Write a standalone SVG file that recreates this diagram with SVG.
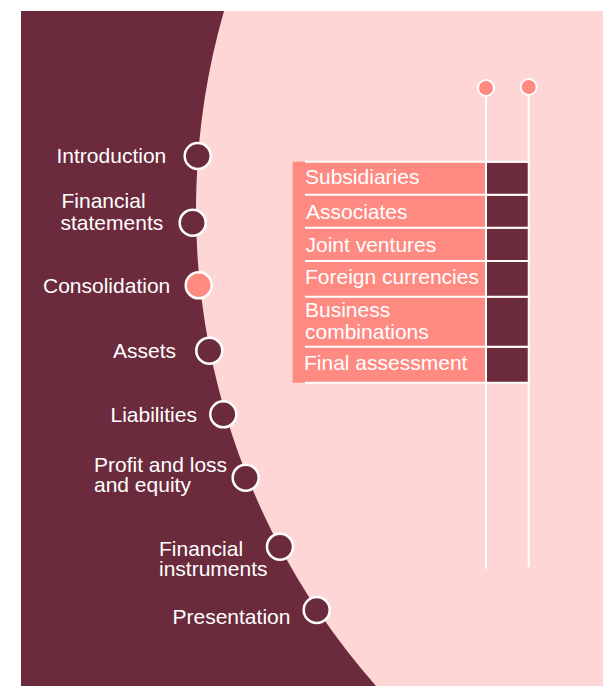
<svg xmlns="http://www.w3.org/2000/svg" width="603" height="686" viewBox="0 0 603 686">
<style>
.lbl{font-family:"Liberation Sans",Arial,sans-serif;font-size:21px;fill:#ffffff}
.node{fill:#6c2b3d;stroke:#ffffff;stroke-width:2.5}
.cell{fill:#6c2b3d}
.sep{stroke:#ffffff;stroke-width:2}
.vline{stroke:#ffffff;stroke-width:2;fill:none}
.dot{fill:#fe8a82;stroke:#ffffff;stroke-width:2}
</style>
<rect x="0" y="0" width="603" height="686" fill="#ffffff"/>
<rect x="21" y="11" width="582" height="675" fill="#fdd6d5"/>
<path d="M21 11 H224 A720 720 0 0 0 376 686 H21 Z" fill="#6c2b3d"/>

<g id="nodes-left">
<g id="n-introduction"><circle class="node" cx="197.7" cy="156" r="13"/><text class="lbl" x="56.5" y="162.7">Introduction</text></g>
<g id="n-financial-statements"><circle class="node" cx="192.7" cy="222.7" r="13"/><text class="lbl" x="61.5" y="208.3">Financial</text><text class="lbl" x="60.5" y="230">statements</text></g>
<g id="n-consolidation"><circle class="node" cx="198.7" cy="285.3" r="13" style="fill:#fe8a82"/><text class="lbl" x="43" y="293.3">Consolidation</text></g>
<g id="n-assets"><circle class="node" cx="209.3" cy="350.7" r="13"/><text class="lbl" x="113" y="358.3">Assets</text></g>
<g id="n-liabilities"><circle class="node" cx="223.3" cy="414.3" r="13"/><text class="lbl" x="110.5" y="421.7">Liabilities</text></g>
<g id="n-profit"><circle class="node" cx="245.7" cy="477.7" r="13"/><text class="lbl" x="94" y="471.7">Profit and loss</text><text class="lbl" x="94" y="492.3">and equity</text></g>
<g id="n-instruments"><circle class="node" cx="280" cy="546.7" r="13"/><text class="lbl" x="159" y="555.7">Financial</text><text class="lbl" x="159" y="576">instruments</text></g>
<g id="n-presentation"><circle class="node" cx="316.7" cy="610" r="13"/><text class="lbl" x="172.5" y="624">Presentation</text></g>
</g>

<g id="connectors">
<line class="vline" x1="486" y1="96" x2="486" y2="568.7"/>
<line class="vline" x1="528.7" y1="95" x2="528.7" y2="567.3"/>
</g>

<g id="table">
<rect x="292.7" y="161.7" width="192.3" height="221" fill="#fe8a82"/>
<rect class="cell" x="487" y="162.7" width="40.7" height="32"/>
<rect class="cell" x="487" y="195.7" width="40.7" height="32"/>
<rect class="cell" x="487" y="228.7" width="40.7" height="32.3"/>
<rect class="cell" x="487" y="262" width="40.7" height="34.7"/>
<rect class="cell" x="487" y="297.7" width="40.7" height="49"/>
<rect class="cell" x="487" y="347.7" width="40.7" height="35"/>
<line class="sep" x1="305" y1="161.7" x2="529.7" y2="161.7"/>
<line class="sep" x1="305" y1="194.7" x2="529.7" y2="194.7"/>
<line class="sep" x1="305" y1="227.7" x2="529.7" y2="227.7"/>
<line class="sep" x1="305" y1="261" x2="529.7" y2="261"/>
<line class="sep" x1="305" y1="296.7" x2="529.7" y2="296.7"/>
<line class="sep" x1="305" y1="346.7" x2="529.7" y2="346.7"/>
<line class="sep" x1="305" y1="382.7" x2="529.7" y2="382.7"/>
<g id="r-subsidiaries"><text class="lbl" x="305" y="184.3">Subsidiaries</text></g>
<g id="r-associates"><text class="lbl" x="306" y="219.3">Associates</text></g>
<g id="r-joint"><text class="lbl" x="305.5" y="251.7">Joint ventures</text></g>
<g id="r-foreign"><text class="lbl" x="305" y="284.3">Foreign currencies</text></g>
<g id="r-business"><text class="lbl" x="305" y="317.3">Business</text><text class="lbl" x="305" y="338.7">combinations</text></g>
<g id="r-final"><text class="lbl" x="304" y="370">Final assessment</text></g>
</g>

<g id="top-dots">
<circle class="dot" cx="486" cy="88" r="8"/>
<circle class="dot" cx="528.7" cy="87" r="8"/>
</g>
</svg>
